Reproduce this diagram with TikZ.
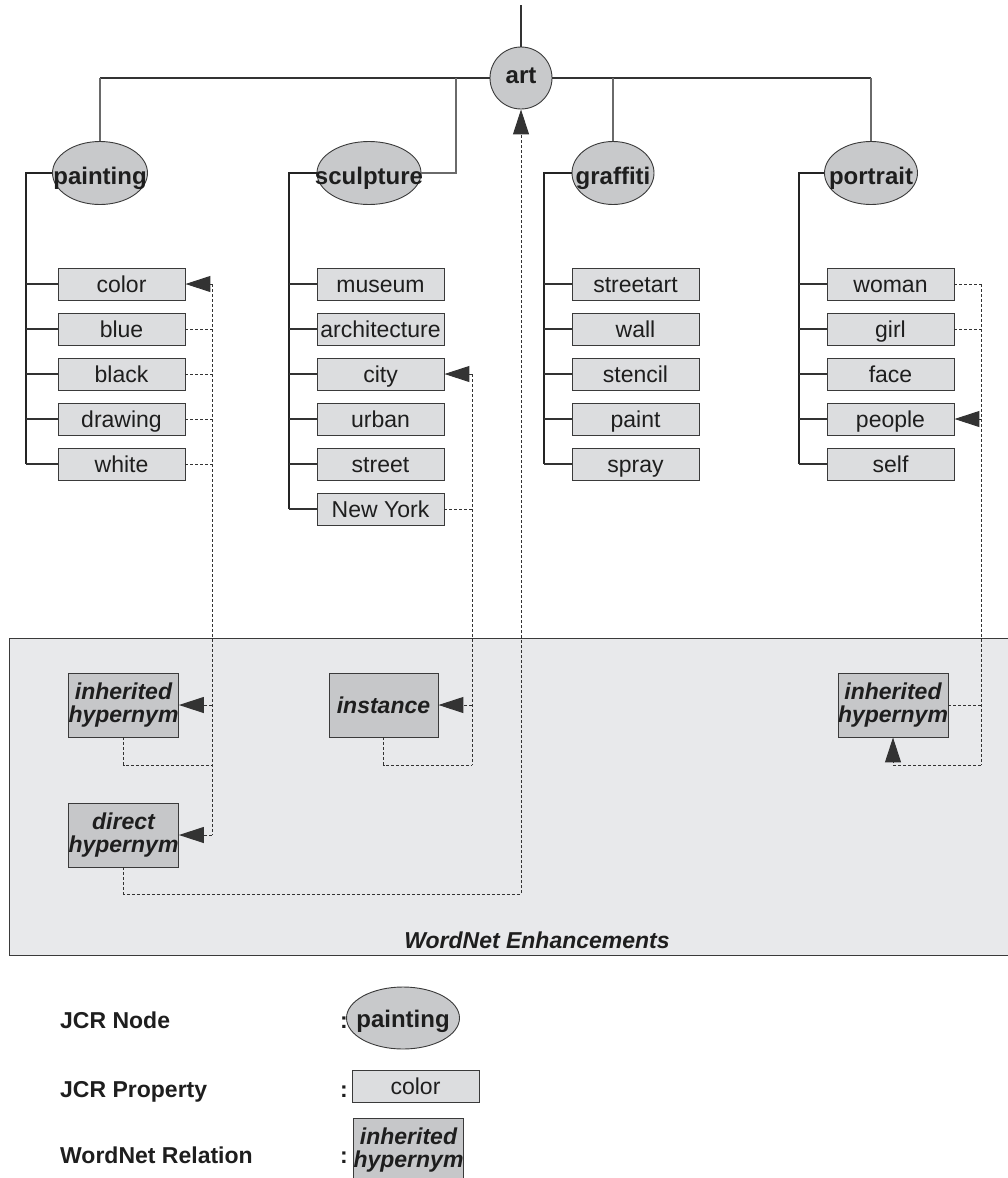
\documentclass[tikz,border=0pt]{standalone}
\usepackage{fontspec}
\setmainfont{Liberation Sans}
\usetikzlibrary{arrows.meta,shapes.geometric}

\definecolor{nodefill}{HTML}{C8C9CB}
\definecolor{propfill}{HTML}{DCDDDF}
\definecolor{relfill}{HTML}{C6C7C9}
\definecolor{panelfill}{HTML}{E8E9EB}
\definecolor{edgecol}{HTML}{3A3A3A}
\definecolor{linecol}{HTML}{333333}
\definecolor{stemcol}{HTML}{6A6A6A}
\definecolor{textcol}{HTML}{1E1E1E}

\tikzset{
  % ellipse of fixed size: the label is set in a zero-width box
  jcrnode/.style={ellipse, draw=edgecol, fill=nodefill, line width=0.9pt,
    inner sep=0pt, minimum height=63pt, text=textcol,
    text height=22pt, text depth=0pt,
    execute at begin node={\hbox to 0pt\bgroup\hss},
    execute at end node={\hss\egroup},
    font=\bfseries\fontsize{24}{26}\selectfont},
  prop/.style={rectangle, draw=edgecol, fill=propfill, line width=0.9pt,
    minimum width=127pt, minimum height=32pt, inner sep=0pt, text=textcol,
    text height=16pt, text depth=0pt,
    font=\fontsize{23}{25}\selectfont},
  rel/.style={rectangle, draw=edgecol, fill=relfill, line width=0.9pt,
    minimum width=109pt, minimum height=64pt, inner sep=0pt, align=center,
    text=textcol, font=\bfseries\itshape\fontsize{23}{23}\selectfont},
  legendtext/.style={anchor=base west, inner sep=0pt, text=textcol,
    font=\bfseries\fontsize{23}{25}\selectfont},
  tree/.style={draw=linecol, line width=1.2pt},
  stem/.style={draw=stemcol, line width=1.2pt},
  spine/.style={draw=linecol!70!black, line width=1.4pt},
  dot/.style={draw=linecol, line width=1pt, dash pattern=on 3pt off 2pt},
  arr/.style={-{Triangle[length=25pt,width=16pt]}},
}

\begin{document}
\begin{tikzpicture}[x=1pt,y=-1pt]
\useasboundingbox (0,0) rectangle (1007,1178);

% WordNet panel in the background
\node[draw=edgecol, fill=panelfill, line width=0.9pt, minimum width=1003pt,
  minimum height=317pt, inner sep=0pt, anchor=north west] (panel) at (9,638) {};
\node[anchor=base, inner sep=0pt, text=textcol,
  font=\bfseries\itshape\fontsize{23}{25}\selectfont]
  (panellabel) at (537,948) {WordNet Enhancements};

% JCR nodes
\node[jcrnode, circle, minimum size=62pt, text height=10pt] (art) at (521,78) {art};
\node[jcrnode, minimum width=95pt]  (painting)  at (100,173) {painting};
\node[jcrnode, minimum width=104pt] (sculpture) at (369,173) {sculpture};
\node[jcrnode, minimum width=82pt]  (graffiti)  at (613,173) {graffiti};
\node[jcrnode, minimum width=93pt]  (portrait)  at (871,173) {portrait};

% JCR properties
\node[prop] (color)   at (121.5,284) {color};
\node[prop] (blue)    at (121.5,329) {blue};
\node[prop] (black)   at (121.5,374) {black};
\node[prop] (drawing) at (121.5,419) {drawing};
\node[prop] (white)   at (121.5,464) {white};

\node[prop] (museum)  at (380.5,284) {museum};
\node[prop] (archi)   at (380.5,329) {architecture};
\node[prop] (city)    at (380.5,374) {city};
\node[prop] (urban)   at (380.5,419) {urban};
\node[prop] (street)  at (380.5,464) {street};
\node[prop] (newyork) at (380.5,509) {New York};

\node[prop] (streetart) at (635.5,284) {streetart};
\node[prop] (wall)      at (635.5,329) {wall};
\node[prop] (stencil)   at (635.5,374) {stencil};
\node[prop] (paint)     at (635.5,419) {paint};
\node[prop] (spray)     at (635.5,464) {spray};

\node[prop] (woman)  at (890.5,284) {woman};
\node[prop] (girl)   at (890.5,329) {girl};
\node[prop] (face)   at (890.5,374) {face};
\node[prop] (people) at (890.5,419) {people};
\node[prop] (self)   at (890.5,464) {self};

% WordNet relations
\node[rel] (inhP)   at (123.5,705) {inherited\\hypernym};
\node[rel] (direct) at (123.5,835) {direct\\hypernym};
\node[rel] (inst)   at (383.5,705) {instance};
\node[rel] (inhR)   at (893,705)   {inherited\\hypernym};

% helper coordinates for the connector rails
\coordinate (root) at (521,5);
\coordinate (sjoin) at (456,0);
\coordinate (spP) at (26,0);
\coordinate (spS) at (289,0);
\coordinate (spG) at (544,0);
\coordinate (spR) at (799,0);
\coordinate (dP) at (212,0);
\coordinate (dS) at (472,0);
\coordinate (dR) at (981,0);
\coordinate (lowA) at (0,765);
\coordinate (lowB) at (0,894);

% hierarchy
\draw[tree] (root) -- (art.north);
\draw[tree] (art.west) -- (art.west -| painting.north);
\draw[stem] (art.west -| painting.north) -- (painting.north);
\draw[stem] (art.west -| sjoin) |- (sculpture.east);
\draw[tree] (art.east) -- (art.east -| portrait.north);
\draw[stem] (art.east -| graffiti.north) -- (graffiti.north);
\draw[stem] (art.east -| portrait.north) -- (portrait.north);

% property rails
\draw[spine] (painting.west) -| (white.west -| spP);
\foreach \p in {color,blue,black,drawing,white}
  \draw[tree] (\p.west -| spP) -- (\p.west);
\draw[spine] (sculpture.west) -| (newyork.west -| spS);
\foreach \p in {museum,archi,city,urban,street,newyork}
  \draw[tree] (\p.west -| spS) -- (\p.west);
\draw[spine] (graffiti.west) -| (spray.west -| spG);
\foreach \p in {streetart,wall,stencil,paint,spray}
  \draw[tree] (\p.west -| spG) -- (\p.west);
\draw[spine] (portrait.west) -| (self.west -| spR);
\foreach \p in {woman,girl,face,people,self}
  \draw[tree] (\p.west -| spR) -- (\p.west);

% WordNet links: painting
\draw[dot] (dP |- color.east) -- (dP |- direct.east);
\draw[dot, arr] (dP |- color.east) -- (color.east);
\foreach \p in {blue,black,drawing,white}
  \draw[dot] (\p.east) -- (dP |- \p.east);
\draw[dot, arr] (dP |- inhP.east) -- (inhP.east);
\draw[dot, arr] (dP |- direct.east) -- (direct.east);
\draw[dot] (inhP.south) |- (dP |- lowA);
\draw[dot, arr] (direct.south) |- (art.south |- lowB) -- (art.south);

% WordNet links: sculpture
\draw[dot] (dS |- city.east) -- (dS |- lowA);
\draw[dot, arr] (dS |- city.east) -- (city.east);
\draw[dot] (newyork.east) -- (dS |- newyork.east);
\draw[dot, arr] (dS |- inst.east) -- (inst.east);
\draw[dot] (inst.south) |- (dS |- lowA);

% WordNet links: portrait
\draw[dot] (dR |- woman.east) -- (dR |- lowA);
\draw[dot] (woman.east) -- (dR |- woman.east);
\draw[dot] (girl.east) -- (dR |- girl.east);
\draw[dot, arr] (dR |- people.east) -- (people.east);
\draw[dot] (inhR.east) -- (dR |- inhR.east);
\draw[dot, arr] (dR |- lowA) -| (inhR.south);

% legend
\node[legendtext] (lgnode) at (60,1028) {JCR Node};
\node[legendtext] (lgprop) at (60,1097) {JCR Property};
\node[legendtext] (lgrel)  at (60,1163) {WordNet Relation};
\node[legendtext] (c1) at (340,1028) {:};
\node[legendtext] (c2) at (340,1097) {:};
\node[legendtext] (c3) at (340,1163) {:};
\node[jcrnode, minimum width=113pt, minimum height=62pt, text height=18pt]
  (lgellipse) at (403,1018) {painting};
\node[prop] (lgbox) at (415.5,1086.5) {color};
\node[rel] (lgrelbox) at (408.5,1150) {inherited\\hypernym};
\end{tikzpicture}
\end{document}
